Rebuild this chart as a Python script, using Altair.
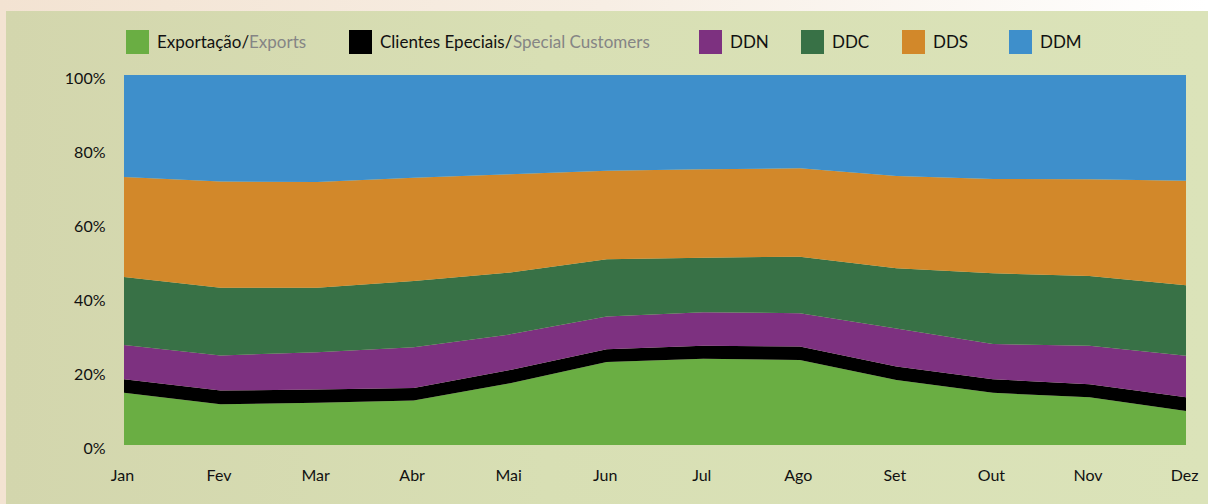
import altair as alt
import pandas as pd

months = ["Jan", "Fev", "Mar", "Abr", "Mai", "Jun", "Jul", "Ago", "Set", "Out", "Nov", "Dez"]
exports = [14.1, 11.0, 11.4, 12.0, 16.7, 22.4, 23.3, 23.0, 17.6, 14.1, 12.9, 9.2]
special = [3.7, 3.7, 3.6, 3.4, 3.6, 3.5, 3.5, 3.6, 3.6, 3.7, 3.5, 3.7]
ddn = [9.2, 9.5, 10.1, 11.0, 9.6, 8.8, 9.1, 9.0, 10.3, 9.5, 10.4, 11.2]
ddc = [18.4, 18.3, 17.4, 17.9, 16.7, 15.5, 14.7, 15.3, 16.3, 19.1, 18.9, 19.1]
dds = [27.0, 28.7, 28.6, 27.9, 26.6, 23.9, 23.9, 23.9, 24.9, 25.5, 26.1, 28.2]
ddm = [27.6, 28.8, 28.9, 27.8, 26.8, 25.9, 25.5, 25.2, 27.3, 28.1, 28.2, 28.6]

series = ["Exports", "Special Customers", "DDN", "DDC", "DDS", "DDM"]
labels_pt = ["Exportação/", "Clientes Epeciais/", "DDN", "DDC", "DDS", "DDM"]
labels_en = ["Exports", "Special Customers", "", "", "", ""]
colors = ["#6aae43", "#000000", "#7d3180", "#387146", "#d2882a", "#3e8fcb"]

FONT = "Lato"

rows = []
for k, vals in enumerate([exports, special, ddn, ddc, dds, ddm]):
    for m, v in zip(months, vals):
        rows.append({"month": m, "series": series[k], "idx": k, "value": v})
df = pd.DataFrame(rows)

# legend layout (pixel offsets relative to plot origin)
sq_left = [2, 225, 575, 677, 778, 885]
en_left = [125, 389]
leg_rows = []
for k in range(len(series)):
    leg_rows.append({
        "series": series[k], "pt": labels_pt[k], "en": labels_en[k],
        "sx": sq_left[k], "sx2": sq_left[k] + 23,
        "tx": sq_left[k] + 31,
        "ex": en_left[k] if k < len(en_left) else 0,
    })
leg = pd.DataFrame(leg_rows)

W, H = 1062, 370

outer = alt.Chart(pd.DataFrame({"a": [0]})).mark_rect(
    color=alt.Gradient(gradient="linear", x1=0, x2=1, y1=0, y2=0,
                       stops=[alt.GradientStop(color="#f3e3d2", offset=0),
                              alt.GradientStop(color="#f7eee4", offset=0.5),
                              alt.GradientStop(color="#ffffff", offset=1)])
).encode(x=alt.value(-124), x2=alt.value(1084), y=alt.value(-75), y2=alt.value(429))

panel = alt.Chart(pd.DataFrame({"a": [0]})).mark_rect(
    color=alt.Gradient(gradient="linear", x1=0, x2=1, y1=0, y2=0,
                       stops=[alt.GradientStop(color="#d3d6ad", offset=0),
                              alt.GradientStop(color="#d8dfb4", offset=0.45),
                              alt.GradientStop(color="#dbe3b9", offset=1)])
).encode(x=alt.value(-118), x2=alt.value(1084), y=alt.value(-64), y2=alt.value(429))

area = alt.Chart(df).mark_area(interpolate="linear").encode(
    x=alt.X("month:O", sort=months, scale=alt.Scale(type="point", padding=0),
            axis=alt.Axis(title=None, labelAngle=0, ticks=False, domain=False,
                          labelPadding=22, labelFontSize=16, labelFont=FONT,
                          labelOffset=-2, labelColor="#111111", zindex=2)),
    y=alt.Y("value:Q", stack="normalize",
            axis=alt.Axis(title=None, format="%", values=[0, 0.2, 0.4, 0.6, 0.8, 1],
                          grid=False, ticks=False, domain=False, labelPadding=19,
                          labelOffset=3,
                          labelFontSize=16, labelFont=FONT, labelColor="#111111",
                          zindex=2)),
    color=alt.Color("series:N", scale=alt.Scale(domain=series, range=colors), legend=None),
    order=alt.Order("idx:Q", sort="ascending"),
)

leg_sq = alt.Chart(leg).mark_rect().encode(
    x=alt.X("sx:Q", scale=None), x2="sx2:Q",
    y=alt.value(-45), y2=alt.value(-21),
    color=alt.Color("series:N", scale=alt.Scale(domain=series, range=colors), legend=None),
)
leg_pt = alt.Chart(leg).mark_text(align="left", baseline="middle", font=FONT,
                                  fontSize=17, color="#111111").encode(
    x=alt.X("tx:Q", scale=None), y=alt.value(-32), text="pt:N")
leg_en = alt.Chart(leg).transform_filter("datum.en != ''").mark_text(
    align="left", baseline="middle", font=FONT, fontSize=17, color="#858585").encode(
    x=alt.X("ex:Q", scale=None), y=alt.value(-32), text="en:N")

chart = alt.layer(outer, panel, area, leg_sq, leg_pt, leg_en).properties(
    width=W, height=H,
    autosize=alt.AutoSizeParams(type="none"),
    padding={"left": 124, "top": 75, "right": 22, "bottom": 59},
).configure_view(stroke=None).configure(background="#f4e6d6")

chart.save("out.html", embed_options={"renderer": "svg", "actions": False})
